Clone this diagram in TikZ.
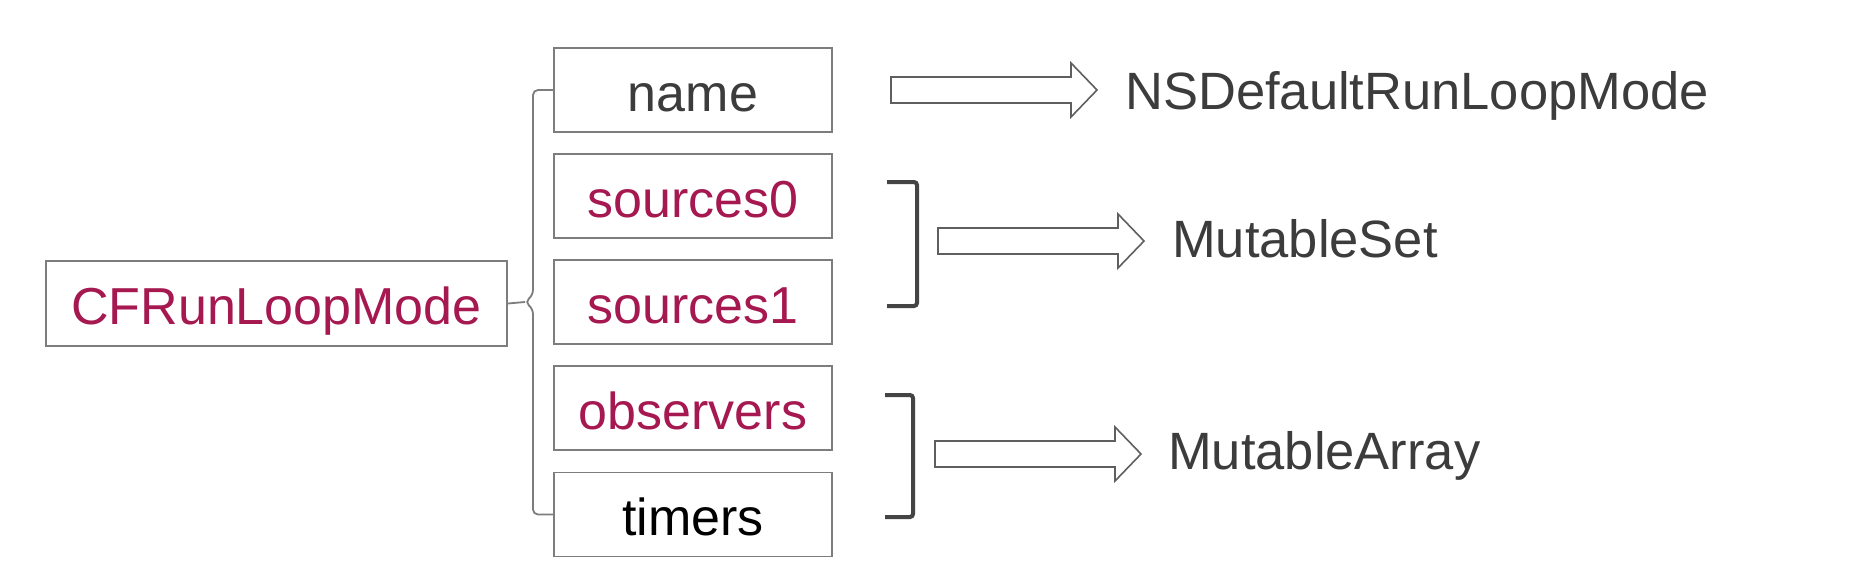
\documentclass[tikz,border=0pt]{standalone}
\usepackage{fontspec}
\setmainfont{Liberation Sans}
\definecolor{crim}{RGB}{165,24,80}
\definecolor{boxgray}{RGB}{125,125,125}
\definecolor{txtgray}{RGB}{60,60,60}
\definecolor{brk}{RGB}{68,68,68}
\definecolor{arrgray}{RGB}{95,95,95}
\begin{document}
\begin{tikzpicture}[x=1pt,y=-1pt,
  field/.style={draw=boxgray, line width=1.8pt, minimum width=278pt, minimum height=84pt,
    inner sep=0pt, text height=42pt, text depth=0pt, font=\fontsize{52}{60}\selectfont},
  lbl/.style={text=txtgray, inner sep=0pt, font=\fontsize{52.5}{60}\selectfont, anchor=base west},
  brace/.style={draw=boxgray, line width=1.8pt, rounded corners=5pt},
  bracket/.style={draw=brk, line width=4pt, rounded corners=3pt},
  arrline/.style={draw=arrgray, line width=1.6pt, fill=white, line join=miter},
  blockarr/.pic={\path[arrline] (0,-13) -- (180,-13) -- (180,-27) -- (206,0) -- (180,27) -- (180,13) -- (0,13) -- cycle;}
]
\fill[white] (0,0) rectangle (1862,584);
\useasboundingbox (0,0) rectangle (1862,584);

% main node and fields
\node[field, text=crim, minimum width=461pt, minimum height=85pt] (mode) at (276.5,303.5) {CFRunLoopMode};
\node[field, text=txtgray] (name) at (693,90) {name};
\node[field, text=crim] (s0) at (693,196) {sources0};
\node[field, text=crim] (s1) at (693,302) {sources1};
\node[field, text=crim] (obs) at (693,408) {observers};
\node[field, text=black] (tim) at (693,514.5) {timers};

% left brace
\coordinate (cusp) at (525,302);
\draw[brace] (name.west) -- (533,90) -- (533,295) -- (cusp) -- (533,309) -- (533,514.5) -- (tim.west);
\draw[brace, rounded corners=0pt] (mode.east) -- (cusp);

% right brackets
\draw[bracket] (887,182) -- (917,182) -- (917,306) -- (887,306);
\draw[bracket] (885,395) -- (913,395) -- (913,517) -- (885,517);

% block arrows
\coordinate (a1) at (891,90);
\coordinate (a2) at (938,241);
\coordinate (a3) at (935,454);
\pic at (a1) {blockarr};
\pic at (a2) {blockarr};
\pic at (a3) {blockarr};

% labels
\node[lbl] (l1) at (1125,109) {NSDefaultRunLoopMode};
\node[lbl] (l2) at (1172,257) {MutableSet};
\node[lbl] (l3) at (1168,469) {MutableArray};
\end{tikzpicture}
\end{document}
